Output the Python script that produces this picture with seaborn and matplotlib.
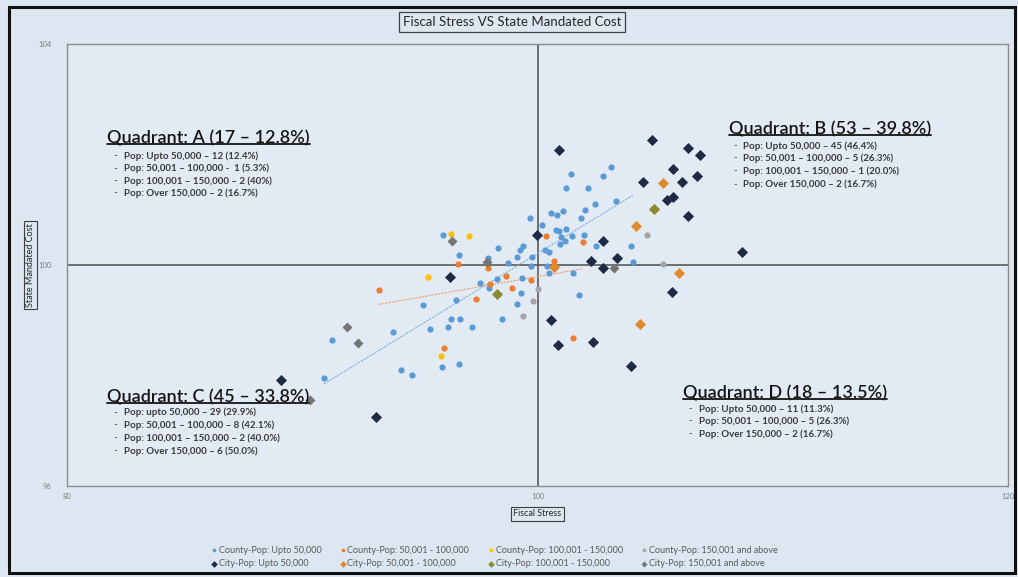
import matplotlib
matplotlib.use("Agg")
import matplotlib.pyplot as plt
import seaborn as sns
from matplotlib.lines import Line2D
from matplotlib.patches import Rectangle

# Valores (Fiscal Stress x State Mandated Cost)
county_upto50_x = [95.98, 96.66, 98.32, 97.90, 98.75, 97.56, 98.28, 97.94, 95.13, 96.54,
                   96.32, 96.71, 95.43, 96.20, 97.22, 98.49, 93.86, 91.26, 90.92, 94.20,
                   94.67, 95.94, 96.66, 101.42, 103.12, 102.78, 101.21, 102.15, 103.34, 102.44,
                   99.68, 100.57, 100.83, 101.08, 102.02, 101.85, 100.19, 100.79, 100.91, 101.21,
                   101.47, 101.00, 101.17, 100.95, 101.98, 102.49, 103.97, 99.38, 99.25, 100.32,
                   100.49, 99.77, 99.13, 99.72, 100.40, 100.49, 101.51, 104.06, 99.34, 99.30,
                   99.13, 101.76]
county_upto50_y = [100.54, 100.19, 100.30, 100.12, 100.03, 99.68, 99.74, 99.59, 99.28, 99.36,
                   99.03, 99.03, 98.85, 98.88, 98.88, 99.03, 98.78, 98.65, 97.96, 98.10,
                   98.01, 98.16, 98.20, 101.64, 101.77, 101.62, 101.39, 101.39, 101.15, 101.10,
                   100.86, 100.95, 100.90, 100.97, 100.99, 100.86, 100.72, 100.63, 100.61, 100.66,
                   100.52, 100.50, 100.44, 100.38, 100.54, 100.35, 100.35, 100.34, 100.27, 100.28,
                   100.24, 100.14, 100.15, 99.99, 99.99, 99.86, 99.86, 100.05, 99.77, 99.50,
                   99.30, 99.45]

county_50_100_x = [93.26, 96.62, 97.90, 97.39, 97.98, 98.66, 96.03, 100.36, 101.93, 98.92,
                   99.72, 101.51, 100.70]
county_50_100_y = [99.54, 100.01, 99.94, 99.39, 99.66, 99.81, 98.49, 100.52, 100.41, 99.59,
                   99.72, 98.68, 100.08]

county_100_150_x = [96.32, 97.09, 95.35, 95.90]
county_100_150_y = [100.57, 100.52, 99.79, 98.36]

county_150_x = [104.65, 105.33, 100.02, 99.38, 99.81]
county_150_y = [100.54, 100.01, 99.57, 99.07, 99.34]

city_upto50_x = [100.91, 104.87, 106.40, 106.91, 105.76, 104.48, 106.14, 106.78, 105.50, 105.76,
                 106.40, 108.69, 105.72, 103.97, 99.98, 102.78, 102.27, 102.78, 103.38, 100.57,
                 100.87, 102.36, 96.28, 89.10, 93.13]
city_upto50_y = [102.08, 102.26, 102.11, 102.00, 101.73, 101.50, 101.51, 101.61, 101.17, 101.24,
                 100.88, 100.23, 99.52, 98.18, 100.55, 100.44, 100.08, 99.95, 100.12, 99.01,
                 98.56, 98.61, 99.79, 97.92, 97.25]

city_50_100_x = [105.33, 104.19, 106.01, 104.36, 100.70]
city_50_100_y = [101.48, 100.70, 99.86, 98.94, 99.97]

city_100_150_x = [104.95, 98.28]
city_100_150_y = [101.01, 99.48]

city_150_x = [96.37, 91.90, 92.37, 90.33, 97.85, 103.25]
city_150_y = [100.43, 98.87, 98.58, 97.56, 100.05, 99.94]

legend_labels = ["County-Pop: Upto 50,000", "County-Pop: 50,001 - 100,000",
                 "County-Pop: 100,001 - 150,000", "County-Pop: 150,001 and above",
                 "City-Pop: Upto 50,000", "City-Pop: 50,001 - 100,000",
                 "City-Pop: 100,001 - 150,000", "City-Pop: 150,001 and above"]

quadrants = {
    "A": ("Quadrant: A (17 \u2013 12.8%)",
          ["Pop: Upto 50,000 \u2013 12 (12.4%)",
           "Pop: 50,001 \u2013 100,000 -  1 (5.3%)",
           "Pop: 100,001 \u2013 150,000 \u2013 2 (40%)",
           "Pop: Over 150,000 \u2013 2 (16.7%)"]),
    "B": ("Quadrant: B (53 \u2013 39.8%)",
          ["Pop: Upto 50,000 \u2013 45 (46.4%)",
           "Pop: 50,001 \u2013 100,000 \u2013 5 (26.3%)",
           "Pop: 100,001 \u2013 150,000 \u2013 1 (20.0%)",
           "Pop: Over 150,000 \u2013 2 (16.7%)"]),
    "C": ("Quadrant: C (45 \u2013 33.8%)",
          ["Pop: upto 50,000 \u2013 29 (29.9%)",
           "Pop: 50,001 \u2013 100,000 \u2013 8 (42.1%)",
           "Pop: 100,001 \u2013 150,000 \u2013 2 (40.0%)",
           "Pop: Over 150,000 \u2013 6 (50.0%)"]),
    "D": ("Quadrant: D (18 \u2013 13.5%)",
          ["Pop: Upto 50,000 \u2013 11 (11.3%)",
           "Pop: 50,001 \u2013 100,000 \u2013 5 (26.3%)",
           "Pop: Over 150,000 \u2013 2 (16.7%)"]),
}

BG = "#dde7f1"
sns.set_style("white")
plt.rcParams["font.family"] = ["Lato", "DejaVu Sans"]

fig = plt.figure(figsize=(10.18, 5.77), dpi=100)
fig.patch.set_facecolor(BG)
ax = fig.add_axes([0.0658, 0.1577, 0.9244, 0.766])
ax.set_facecolor("#e2eaf4")

groups = [
    (county_upto50_x, county_upto50_y, "#5b9bd5", "o", 20),
    (county_50_100_x, county_50_100_y, "#ed7d31", "o", 20),
    (county_100_150_x, county_100_150_y, "#ffc000", "o", 20),
    (county_150_x, county_150_y, "#a5a5a5", "o", 20),
    (city_upto50_x, city_upto50_y, "#1f2b44", "D", 32),
    (city_50_100_x, city_50_100_y, "#e08a2c", "D", 32),
    (city_100_150_x, city_100_150_y, "#8c8a30", "D", 32),
    (city_150_x, city_150_y, "#757575", "D", 26),
]
for (gx, gy, c, m, s), lab in zip(groups, legend_labels):
    sns.scatterplot(x=gx, y=gy, ax=ax, color=c, marker=m, s=s, linewidth=0,
                    label=lab, zorder=4)

# linhas de tendência
sns.regplot(x=county_upto50_x, y=county_upto50_y, ax=ax, scatter=False, ci=None,
            color="#7fb0dd", line_kws=dict(lw=0.8, ls=(0, (2, 1)), zorder=3))
sns.regplot(x=county_50_100_x, y=county_50_100_y, ax=ax, scatter=False, ci=None,
            color="#f0a070", line_kws=dict(lw=0.8, ls=(0, (2, 1)), zorder=3))

ax.axvline(100, color="#595959", lw=1.2, zorder=2)
ax.axhline(100, color="#595959", lw=1.2, zorder=2)

ax.set_xlim(80, 120)
ax.set_ylim(96, 104)
ax.set_xticks([80, 100, 120])
ax.set_yticks([96, 100, 104])
ax.tick_params(axis="both", labelsize=5.5, colors="#7f7f7f", length=0)
ax.tick_params(axis="y", pad=11)
ax.tick_params(axis="x", pad=5)
for sp in ax.spines.values():
    sp.set_color("#8c8c8c")
    sp.set_linewidth(1)

box = dict(boxstyle="square,pad=0.25", fc="none", ec="#404040", lw=0.8)
ax.set_xlabel("Fiscal Stress", fontsize=6.5, color="#262626", bbox=box)
ax.set_ylabel("State Mandated Cost", fontsize=6.5, color="#262626", bbox=box)
ax.xaxis.set_label_coords(0.5, -0.063)
ax.yaxis.set_label_coords(-0.039, 0.5)
ax.xaxis.label.set_va("center")
ax.yaxis.label.set_va("center")

fig.text(512 / 1018, 1 - 22 / 577, "Fiscal Stress VS State Mandated Cost",
         ha="center", va="center", fontsize=9.5, color="#262626",
         bbox=dict(boxstyle="square,pad=0.3", fc="none", ec="#404040", lw=0.9))

# textos dos quadrantes
pos = {"A": (0.0425, 0.787, 0.049, 0.0606, [0.747, 0.719, 0.690, 0.663]),
       "B": (0.7035, 0.808, 0.708, 0.718, [0.769, 0.742, 0.713, 0.683]),
       "C": (0.0425, 0.2014, 0.049, 0.0606, [0.167, 0.138, 0.109, 0.079]),
       "D": (0.6546, 0.2104, 0.660, 0.672, [0.174, 0.147, 0.118])}
headings = []
for k, (title, lines) in quadrants.items():
    hx, hy, dx, tx, ys = pos[k]
    t = ax.text(hx, hy, title, transform=ax.transAxes, fontsize=13,
                fontweight="semibold", color="#141414", ha="left", va="center",
                zorder=5)
    headings.append(t)
    for yy, line in zip(ys, lines):
        ax.text(dx, yy, "-", transform=ax.transAxes, fontsize=7, color="#404040",
                ha="left", va="center")
        ax.text(tx, yy, line, transform=ax.transAxes, fontsize=7, color="#3a3a3a",
                fontweight="bold", ha="left", va="center")

handles, labels = ax.get_legend_handles_labels()
ax.get_legend().remove()
order = [0, 4, 1, 5, 2, 6, 3, 7]
fig.legend([handles[i] for i in order], [labels[i] for i in order],
           loc="center", bbox_to_anchor=(494 / 1018, 1 - 557 / 577), ncol=4,
           frameon=False, fontsize=6.5, labelcolor="#595959", handletextpad=0.1,
           columnspacing=2.0, handlelength=0.8, markerscale=0.6,
           labelspacing=0.5)

# sublinhado dos títulos
fig.canvas.draw()
rend = fig.canvas.get_renderer()
for t in headings:
    bb = t.get_window_extent(rend)
    yline = (bb.y0 + 2) / fig.bbox.height
    fig.add_artist(Line2D([bb.x0 / fig.bbox.width, bb.x1 / fig.bbox.width],
                          [yline, yline], color="#141414", lw=1.3))

fig.add_artist(Rectangle((9 / 1018, 4 / 577), 1006 / 1018, 566 / 577,
                         fill=False, ec="#111111", lw=2.2))

fig.savefig("out.png", dpi=100, facecolor=BG)
